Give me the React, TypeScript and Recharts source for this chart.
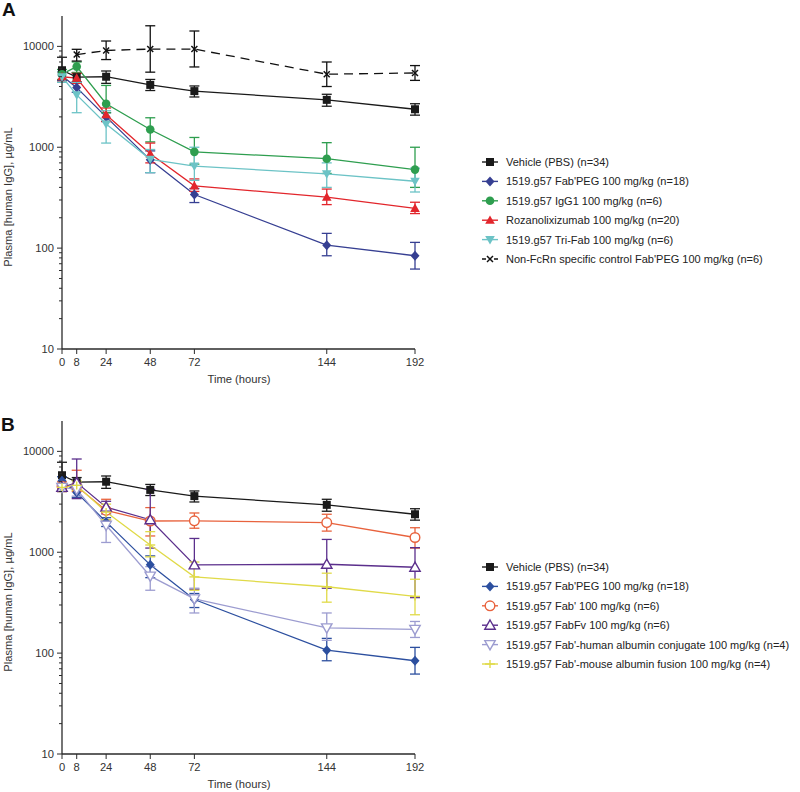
import { ErrorBar, Line, LineChart, XAxis, YAxis } from "recharts"

// sampling times (hours)
const TIMES = [0, 8, 24, 48, 72, 144, 192]
const X_TICKS = [0, 8, 24, 48, 72, 144, 192]
const MAJOR_TICKS = [10, 100, 1000, 10000]
const MINOR_STEPS = [2, 3, 4, 5, 6, 7, 8, 9]

// ---- shared series (both panels) ----
const vehicle = [5800, 4950, 5000, 4150, 3600, 2950, 2380]
const vehicleLo = [4400, 4450, 4300, 3650, 3150, 2550, 2080]
const vehicleHi = [7800, 5500, 5700, 4700, 4050, 3350, 2700]

const fabPeg = [5100, 3900, 2000, 750, 340, 107, 84]
const fabPegLo = [4600, 3500, 1800, 560, 283, 84, 62]
const fabPegHi = [5600, 4400, 2200, 920, 390, 140, 114]

// ---- panel A ----
const igg1 = [5300, 6300, 2700, 1500, 900, 770, 600]
const igg1Lo = [4700, 5500, 2200, 1130, 680, 550, 400]
const igg1Hi = [5900, 7000, 4100, 1960, 1250, 1110, 1000]

const roza = [5000, 4850, 2100, 860, 415, 320, 248]
const rozaLo = [4400, 4300, 1800, 700, 365, 270, 220]
const rozaHi = [5600, 5400, 2450, 1100, 485, 385, 285]

const triFab = [5000, 3300, 1700, 760, 650, 545, 460]
const triFabLo = [4400, 2200, 1100, 560, 470, 400, 360]
const triFabHi = [5600, 4400, 2300, 950, 1000, 700, 620]

const nonFcRn = [null, 8300, 9100, 9400, 9400, 5300, 5450]
const nonFcRnLo = [null, 7150, 7400, 5550, 6250, 4000, 4600]
const nonFcRnHi = [null, 9350, 11300, 16000, 14200, 7000, 6450]

// ---- panel B ----
const fabPrime = [4500, 4500, 2600, 2040, 2050, 1970, 1400]
const fabPrimeLo = [4000, 4000, 2100, 1450, 1730, 1620, 1100]
const fabPrimeHi = [5000, 6500, 3350, 2770, 2450, 2380, 1750]

const fabFv = [4400, 4900, 2800, 2100, 750, 760, 710]
const fabFvLo = [4000, 3400, 2400, 1100, 430, 440, 355]
const fabFvHi = [4800, 8400, 3200, 4200, 1370, 1340, 1110]

const humanAlb = [4400, 4200, 1850, 580, 345, 178, 172]
const humanAlbLo = [4000, 3600, 1250, 420, 250, 134, 143]
const humanAlbHi = [4800, 4800, 2400, 720, 440, 250, 206]

const mouseAlb = [4400, 4600, 2500, 1180, 570, 455, 365]
const mouseAlbLo = [4000, 4100, 2100, 900, 420, 320, 240]
const mouseAlbHi = [4800, 5100, 3000, 1600, 800, 620, 540]

type Marker =
  | "square"
  | "diamond"
  | "circle"
  | "triUp"
  | "triDown"
  | "star"
  | "openCircle"
  | "openTriUp"
  | "openTriDown"
  | "plus"

type Series = {
  key: string
  name: string
  color: string
  marker: Marker
  dashed?: boolean
  values: (number | null)[]
  lo: (number | null)[]
  hi: (number | null)[]
}

const SERIES_A: Series[] = [
  { key: "vehicle", name: "Vehicle (PBS) (n=34)", color: "#1a1a1a", marker: "square", values: vehicle, lo: vehicleLo, hi: vehicleHi },
  { key: "fabPeg", name: "1519.g57 Fab'PEG 100 mg/kg (n=18)", color: "#363f92", marker: "diamond", values: fabPeg, lo: fabPegLo, hi: fabPegHi },
  { key: "igg1", name: "1519.g57 IgG1 100 mg/kg (n=6)", color: "#2e9e4f", marker: "circle", values: igg1, lo: igg1Lo, hi: igg1Hi },
  { key: "roza", name: "Rozanolixizumab 100 mg/kg (n=20)", color: "#e2262c", marker: "triUp", values: roza, lo: rozaLo, hi: rozaHi },
  { key: "triFab", name: "1519.g57 Tri-Fab 100 mg/kg (n=6)", color: "#6cc3c6", marker: "triDown", values: triFab, lo: triFabLo, hi: triFabHi },
  { key: "nonFcRn", name: "Non-FcRn specific control Fab'PEG 100 mg/kg (n=6)", color: "#111111", marker: "star", dashed: true, values: nonFcRn, lo: nonFcRnLo, hi: nonFcRnHi },
]

const SERIES_B: Series[] = [
  { key: "vehicle", name: "Vehicle (PBS) (n=34)", color: "#1a1a1a", marker: "square", values: vehicle, lo: vehicleLo, hi: vehicleHi },
  { key: "fabPeg", name: "1519.g57 Fab'PEG 100 mg/kg (n=18)", color: "#2c4f9f", marker: "diamond", values: fabPeg, lo: fabPegLo, hi: fabPegHi },
  { key: "fabPrime", name: "1519.g57 Fab' 100 mg/kg (n=6)", color: "#e8623d", marker: "openCircle", values: fabPrime, lo: fabPrimeLo, hi: fabPrimeHi },
  { key: "fabFv", name: "1519.g57 FabFv 100 mg/kg (n=6)", color: "#5b2f8c", marker: "openTriUp", values: fabFv, lo: fabFvLo, hi: fabFvHi },
  { key: "humanAlb", name: "1519.g57 Fab'-human albumin conjugate 100 mg/kg (n=4)", color: "#9c9cd0", marker: "openTriDown", values: humanAlb, lo: humanAlbLo, hi: humanAlbHi },
  { key: "mouseAlb", name: "1519.g57 Fab'-mouse albumin fusion 100 mg/kg (n=4)", color: "#e0da48", marker: "plus", values: mouseAlb, lo: mouseAlbLo, hi: mouseAlbHi },
]

const FONT = "'Liberation Sans', Arial, Helvetica, sans-serif"
const FONT_SIZE = 11.2
const LEGEND_FONT_SIZE = 11
const AXIS_COLOR = "#2a2a2a"

const Y_TICKS = MAJOR_TICKS.slice(0, 3)
  .flatMap((d) => [d, ...MINOR_STEPS.map((s) => s * d)])
  .concat([10000])

function buildRows(series: Series[]) {
  return TIMES.map((t, i) => {
    const row: Record<string, unknown> = { t }
    for (const s of series) {
      const v = s.values[i]
      const lo = s.lo[i]
      const hi = s.hi[i]
      row[s.key] = v
      row[s.key + "Err"] = v == null || lo == null || hi == null ? undefined : [v - lo, hi - v]
    }
    return row
  })
}

function MarkerShape({ cx, cy, marker, color }: { cx: number; cy: number; marker: Marker; color: string }) {
  switch (marker) {
    case "square":
      return <rect x={cx - 4} y={cy - 4} width={8} height={8} fill={color} />
    case "diamond":
      return <polygon points={`${cx},${cy - 5} ${cx + 4.5},${cy} ${cx},${cy + 5} ${cx - 4.5},${cy}`} fill={color} />
    case "circle":
      return <circle cx={cx} cy={cy} r={4.3} fill={color} />
    case "triUp":
      return <polygon points={`${cx},${cy - 4.8} ${cx + 4.8},${cy + 3.6} ${cx - 4.8},${cy + 3.6}`} fill={color} />
    case "triDown":
      return <polygon points={`${cx},${cy + 4.8} ${cx + 4.8},${cy - 3.6} ${cx - 4.8},${cy - 3.6}`} fill={color} />
    case "star":
      return (
        <g stroke={color} strokeWidth={1.5}>
          <line x1={cx - 3} y1={cy - 3} x2={cx + 3} y2={cy + 3} />
          <line x1={cx - 3} y1={cy + 3} x2={cx + 3} y2={cy - 3} />
        </g>
      )
    case "openCircle":
      return <circle cx={cx} cy={cy} r={4.8} fill="#fff" stroke={color} strokeWidth={1.4} />
    case "openTriUp":
      return <polygon points={`${cx},${cy - 5.2} ${cx + 5.2},${cy + 4} ${cx - 5.2},${cy + 4}`} fill="#fff" stroke={color} strokeWidth={1.4} />
    case "openTriDown":
      return <polygon points={`${cx},${cy + 5.2} ${cx + 5.2},${cy - 4} ${cx - 5.2},${cy - 4}`} fill="#fff" stroke={color} strokeWidth={1.4} />
    case "plus":
      return (
        <g stroke={color} strokeWidth={1.4}>
          <line x1={cx - 5} y1={cy} x2={cx + 5} y2={cy} />
          <line x1={cx} y1={cy - 4} x2={cx} y2={cy + 4} />
        </g>
      )
  }
}

function YTick(props: any) {
  const { x, y, payload } = props
  const major = MAJOR_TICKS.includes(payload.value)
  return (
    <g>
      <line x1={x} x2={x - (major ? 5 : 3)} y1={y} y2={y} stroke={AXIS_COLOR} strokeWidth={1} />
      {major && (
        <text x={x - 8} y={y} dy={4} textAnchor="end" fontSize={FONT_SIZE} fontFamily={FONT} fill="#333">
          {payload.value}
        </text>
      )}
    </g>
  )
}

function XTick(props: any) {
  const { x, y, payload } = props
  return (
    <g>
      <line x1={x} x2={x} y1={y} y2={y + 5} stroke={AXIS_COLOR} strokeWidth={1} />
      <text x={x} y={y + 17} textAnchor="middle" fontSize={FONT_SIZE} fontFamily={FONT} fill="#333">
        {payload.value}
      </text>
    </g>
  )
}

function Panel({ series }: { series: Series[] }) {
  const rows = buildRows(series)
  return (
    <LineChart width={440} height={387} data={rows} margin={{ top: 16, right: 25, left: 0, bottom: 0 }}>
      <XAxis
        dataKey="t"
        type="number"
        domain={[0, 192]}
        ticks={X_TICKS}
        height={38}
        tickLine={false}
        tickSize={0}
        tickMargin={0}
        tick={<XTick />}
        axisLine={{ stroke: AXIS_COLOR, strokeWidth: 1.3 }}
      />
      <YAxis
        scale="log"
        domain={[10, 20000]}
        allowDataOverflow
        ticks={Y_TICKS}
        width={62}
        interval={0}
        tickLine={false}
        tickSize={0}
        tickMargin={0}
        tick={<YTick />}
        axisLine={{ stroke: AXIS_COLOR, strokeWidth: 1.3 }}
      />
      {series.map((s) => (
        <Line
          key={s.key}
          type="linear"
          dataKey={s.key}
          stroke={s.color}
          strokeWidth={1.3}
          strokeDasharray={s.dashed ? "9 6" : undefined}
          connectNulls={false}
          isAnimationActive={false}
          activeDot={false}
          dot={(p: any) =>
            p.cx == null || p.cy == null || p.value == null ? (
              <g key={`d-${s.key}-${p.index}`} />
            ) : (
              <g key={`d-${s.key}-${p.index}`}>
                <MarkerShape cx={p.cx} cy={p.cy} marker={s.marker} color={s.color} />
              </g>
            )
          }
        >
          <ErrorBar
            dataKey={s.key + "Err"}
            direction="y"
            width={5}
            stroke={s.color}
            strokeWidth={1.3}
            isAnimationActive={false}
          />
        </Line>
      ))}
    </LineChart>
  )
}

function LegendRows({ series, top }: { series: Series[]; top: number }) {
  return (
    <g>
      {series.map((s, i) => {
        const y = top + i * 19.4
        return (
          <g key={s.key}>
            <line
              x1={482}
              x2={498}
              y1={y}
              y2={y}
              stroke={s.color}
              strokeWidth={1.4}
              strokeDasharray={s.dashed ? "4 8" : undefined}
            />
            <MarkerShape cx={490} cy={y} marker={s.marker} color={s.color} />
            <text x={506} y={y} dy={4} fontSize={LEGEND_FONT_SIZE} fontFamily={FONT} fill="#222">
              {s.name}
            </text>
          </g>
        )
      })}
    </g>
  )
}

export default function App() {
  return (
    <div style={{ position: "absolute", left: 0, top: 0, width: 800, height: 792, background: "#fff" }}>
      <div style={{ position: "absolute", left: 0, top: 0 }}>
        <Panel series={SERIES_A} />
      </div>
      <div style={{ position: "absolute", left: 0, top: 405 }}>
        <Panel series={SERIES_B} />
      </div>
      <svg width={800} height={792} style={{ position: "absolute", left: 0, top: 0, pointerEvents: "none" }}>
        <text x={2} y={16} fontSize={19} fontWeight="bold" fontFamily={FONT} fill="#111">A</text>
        <text x={1} y={431} fontSize={19} fontWeight="bold" fontFamily={FONT} fill="#111">B</text>
        <text transform="translate(12,197) rotate(-90)" textAnchor="middle" fontSize={FONT_SIZE} fontFamily={FONT} fill="#333">
          Plasma [human IgG], µg/mL
        </text>
        <text transform="translate(12,602) rotate(-90)" textAnchor="middle" fontSize={FONT_SIZE} fontFamily={FONT} fill="#333">
          Plasma [human IgG], µg/mL
        </text>
        <text x={239} y={383} textAnchor="middle" fontSize={FONT_SIZE} fontFamily={FONT} fill="#333">Time (hours)</text>
        <text x={239} y={788} textAnchor="middle" fontSize={FONT_SIZE} fontFamily={FONT} fill="#333">Time (hours)</text>
        <LegendRows series={SERIES_A} top={162} />
        <LegendRows series={SERIES_B} top={567} />
      </svg>
    </div>
  )
}
